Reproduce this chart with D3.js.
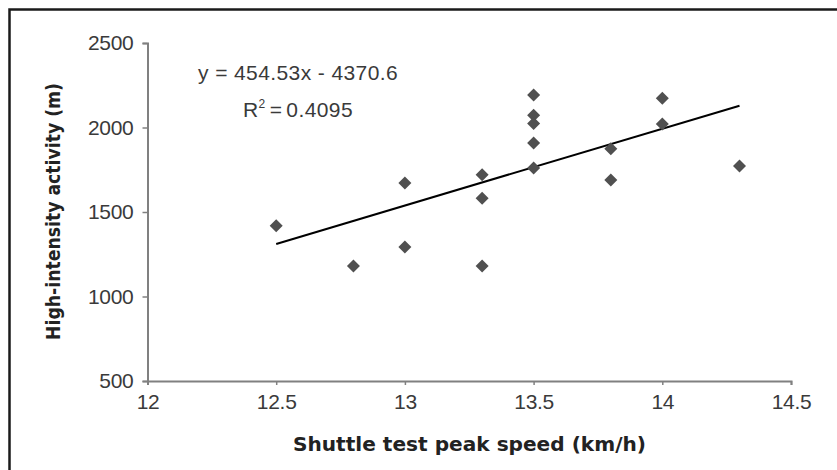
<!doctype html>
<html>
  <head>
    <meta charset="utf-8">
    <title>shuttle test scatter</title>
    <script src="https://d3js.org/d3.v7.min.js"></script>
    <style type="text/css">
      body { margin: 0; background: #fff; }
      .tick text {
        font-family: "Liberation Sans", Arial, sans-serif;
        font-size: 21px;
        letter-spacing: -0.3px;
        fill: #3a3a3a;
      }
      .title {
        font-family: "DejaVu Sans", sans-serif;
        font-weight: bold;
        font-size: 19px;
        fill: #222;
      }
      .eq {
        font-family: "Liberation Sans", Arial, sans-serif;
        font-size: 21px;
        letter-spacing: 0.4px;
        fill: #3a3a3a;
      }
    </style>
  </head>
  <body>
    <svg></svg>
    <script type="text/javascript">
      var w = 837,
        h = 470;

      // peak speed (km/h) and high-intensity activity (m)
      var speed = [12.5, 12.8, 13.0, 13.0, 13.3, 13.3, 13.3, 13.5, 13.5, 13.5, 13.5, 13.5, 13.8, 13.8, 14.0, 14.0, 14.3];
      var activity = [1418, 1180, 1671, 1293, 1180, 1720, 1581, 2192, 2073, 2024, 1909, 1760, 1875, 1690, 2173, 2020, 1772];
      var xTicks = [12, 12.5, 13, 13.5, 14, 14.5];
      var yTicks = [500, 1000, 1500, 2000, 2500];
      var slope = 454.53,
        intercept = -4370.6;

      var svg = d3.select('svg')
        .attr('width', w)
        .attr('height', h);

      // frame (only top and left edges show)
      svg.append('path')
        .attr('d', 'M9.5,' + h + 'V9.5H' + w)
        .attr('fill', 'none')
        .attr('stroke', '#1a1a1a')
        .attr('stroke-width', 2.5);

      var x = d3.scaleLinear().domain([12, 14.5]).range([147.5, 791]);
      var y = d3.scaleLinear().domain([500, 2500]).range([381, 43]);

      var xAxis = svg.append('g')
        .attr('transform', 'translate(0,381)')
        .call(d3.axisBottom(x).tickValues(xTicks).tickSize(4).tickPadding(8)
          .tickFormat(function(d) { return d; }));
      var yAxis = svg.append('g')
        .attr('transform', 'translate(147.5,0)')
        .call(d3.axisLeft(y).tickValues(yTicks).tickSize(5).tickPadding(9)
          .tickFormat(d3.format('d')));

      [xAxis, yAxis].forEach(function(g) {
        g.select('.domain').attr('stroke', '#808080').attr('stroke-width', 2);
        g.selectAll('.tick line').attr('stroke', '#808080').attr('stroke-width', 1.5);
      });
      xAxis.selectAll('.tick text').attr('dy', '0.75em');

      // trend line
      var x0 = d3.min(speed),
        x1 = d3.max(speed);
      svg.append('line')
        .attr('x1', x(x0))
        .attr('y1', y(slope * x0 + intercept))
        .attr('x2', x(x1))
        .attr('y2', y(slope * x1 + intercept))
        .attr('stroke', '#000')
        .attr('stroke-width', 2);

      // diamond markers
      svg.selectAll('.pt')
        .data(speed)
        .enter()
        .append('path')
        .attr('class', 'pt')
        .attr('d', 'M0,-6.5L6.5,0L0,6.5L-6.5,0Z')
        .attr('transform', function(d, i) {
          return 'translate(' + x(d) + ',' + y(activity[i]) + ')';
        })
        .attr('fill', '#505050');

      // equation
      svg.append('text')
        .attr('class', 'eq')
        .attr('x', 198)
        .attr('y', 80)
        .text('y = 454.53x - 4370.6');
      var r2 = svg.append('text')
        .attr('class', 'eq')
        .attr('x', 243)
        .attr('y', 117);
      r2.append('tspan').text('R');
      r2.append('tspan').attr('dy', -9).attr('font-size', 12).text('2');
      r2.append('tspan').attr('dy', 9).attr('dx', 4).text('=');
      r2.append('tspan').attr('dx', 4).text('0.4095');

      // axis titles
      svg.append('text')
        .attr('class', 'title')
        .attr('x', 293)
        .attr('y', 451)
        .attr('textLength', 353)
        .attr('lengthAdjust', 'spacingAndGlyphs')
        .text('Shuttle test peak speed (km/h)');
      svg.append('text')
        .attr('class', 'title')
        .attr('transform', 'translate(60,340) rotate(-90)')
        .attr('textLength', 257)
        .attr('lengthAdjust', 'spacingAndGlyphs')
        .text('High-intensity activity (m)');
    </script>
  </body>
</html>
